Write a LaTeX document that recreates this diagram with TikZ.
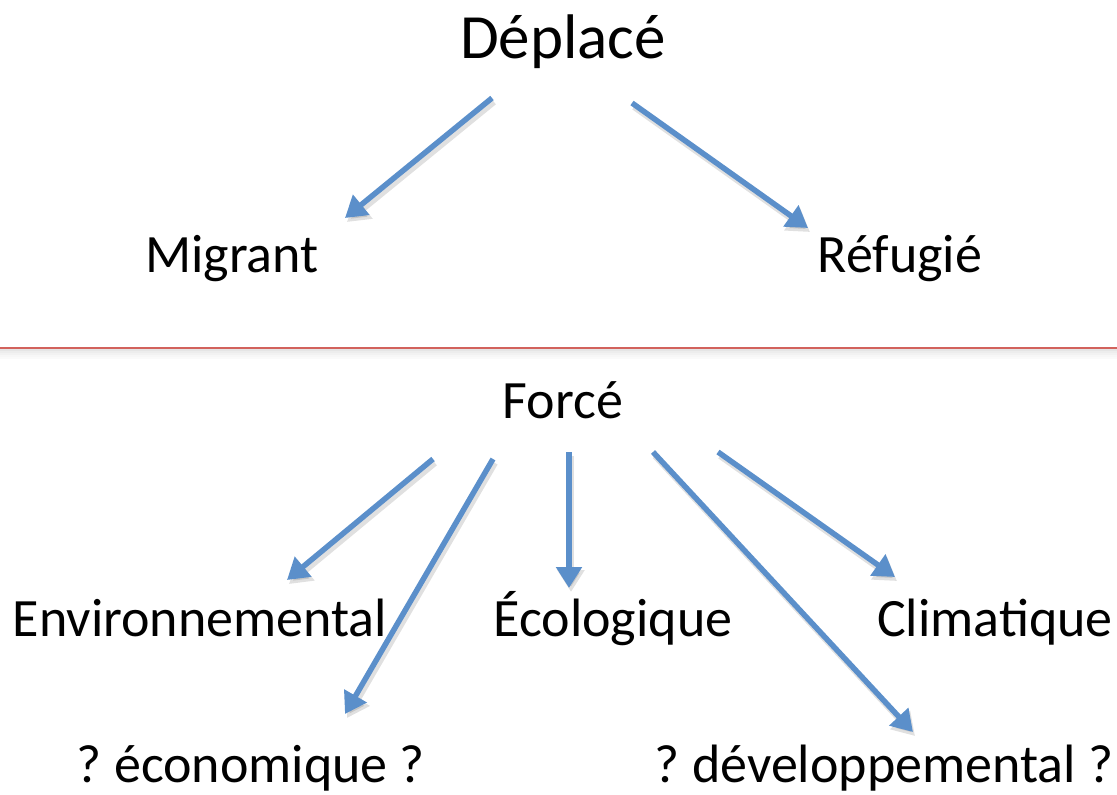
\documentclass[tikz,border=0pt]{standalone}
\usepackage{fontspec}
\setmainfont{Carlito}
\usetikzlibrary{arrows.meta}
\definecolor{arrblue}{HTML}{5B8FCA}
\definecolor{sepred}{HTML}{D2625C}
\frenchspacing
\begin{document}
\begin{tikzpicture}[x=1pt,y=-1pt,
  lbl/.style={anchor=base,inner sep=0pt,font=\frenchspacing\fontsize{54}{64}\selectfont},
  big/.style={anchor=base,inner sep=0pt,font=\fontsize{63}{76}\selectfont},
  arr/.style={draw=arrblue,line width=5.5pt,-{Triangle[length=21pt,width=25pt]}},
  shad/.style={draw=black,opacity=0.12,line width=6pt,-{Triangle[length=22pt,width=26pt]}}]
\useasboundingbox (0,0) rectangle (1117,795);
% texts
\node[big] (deplace) at (563,58) {Déplacé};
\node[lbl] (migrant) at (232,272) {Migrant};
\node[lbl] (refugie) at (900,272) {Réfugié};
\node[lbl] (force) at (563,418) {Forcé};
\node[lbl] (env) at (200,636) {Environnemental};
\node[lbl] (eco) at (613,636) {Écologique};
\node[lbl] (clim) at (995,636) {Climatique};
\node[lbl] (econ) at (251,782) {? économique ?};
\node[lbl] (dev) at (884,782) {? développemental ?};
% separator
\foreach \i/\o in {1/0.10,2/0.07,3/0.05,4/0.03,5/0.02}{
  \draw[black,opacity=\o,line width=2pt] (0,348+2*\i) -- (1117,348+2*\i);}
\draw[sepred,line width=2.5pt] (0,348) -- (1117,348);
% arrow coordinates
\coordinate (t1) at (492,98);  \coordinate (h1) at (345,218);
\coordinate (t2) at (632,103); \coordinate (h2) at (808,228);
\coordinate (t3) at (433,459); \coordinate (h3) at (287,580);
\coordinate (t4) at (493,459); \coordinate (h4) at (345,714);
\coordinate (t5) at (569,452); \coordinate (h5) at (569,588);
\coordinate (t6) at (653,452); \coordinate (h6) at (913,732);
\coordinate (t7) at (718,452); \coordinate (h7) at (895,577);
\foreach \n in {1,...,7}{
  \draw[shad] ([shift={(2,4)}]t\n) -- ([shift={(2,4)}]h\n);}
\foreach \n in {1,...,7}{
  \draw[arr] (t\n) -- (h\n);}
\end{tikzpicture}
\end{document}
